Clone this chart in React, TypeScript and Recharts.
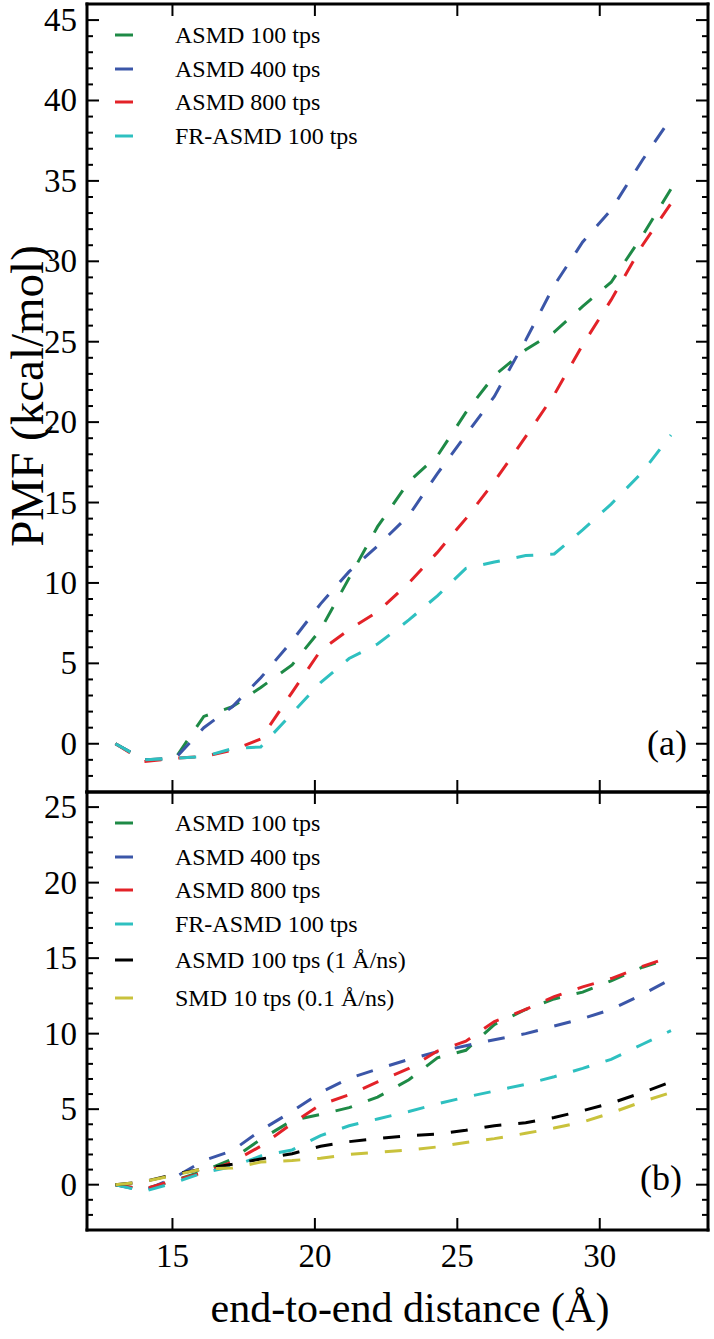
import React from 'react';
import { LineChart, Line, XAxis, YAxis } from 'recharts';

// end-to-end distance (Å) of each stage
const distance = [13.0, 14.0, 15.1, 16.1, 17.1, 18.1, 19.2, 20.2, 21.2, 22.2, 23.3, 24.3, 25.3, 26.3, 27.4, 28.4, 29.4, 30.4, 31.5, 32.5];

// panel (a), PMF in kcal/mol
const asmd100A = [0, -1.0, -0.9, 1.7, 2.3, 3.5, 4.9, 7.1, 10.3, 13.5, 16.3, 17.9, 20.6, 22.9, 24.5, 25.6, 27.2, 28.7, 31.6, 34.5];
const asmd400A = [0, -1.0, -0.9, 1.0, 2.3, 4.1, 6.4, 8.7, 10.7, 12.3, 14.2, 16.8, 19.2, 21.6, 25.1, 28.5, 31.2, 33.2, 36.3, 38.9];
const asmd800A = [0, -1.1, -0.9, -0.8, -0.4, 0.3, 3.2, 5.8, 7.1, 8.2, 10.0, 11.9, 14.0, 16.3, 19.1, 21.7, 24.8, 27.6, 31.0, 33.6];
const frAsmd100A = [0, -1.0, -0.9, -0.8, -0.3, -0.2, 1.9, 3.8, 5.3, 6.2, 7.7, 9.2, 10.9, 11.3, 11.7, 11.8, 13.3, 14.9, 16.9, 19.2];

// panel (b)
const asmd100B = [0, -0.3, 0.3, 0.9, 1.7, 3.0, 4.25, 4.65, 5.1, 5.8, 6.95, 8.4, 8.9, 10.6, 11.6, 12.3, 12.75, 13.5, 14.4, 15.0];
const asmd400B = [0, -0.4, 0.5, 1.6, 2.25, 3.6, 4.85, 6.1, 7.05, 7.65, 8.3, 8.8, 9.2, 9.6, 10.0, 10.5, 11.0, 11.6, 12.6, 13.6];
const asmd800B = [0, -0.3, 0.3, 0.8, 1.5, 2.55, 4.05, 5.3, 5.95, 6.8, 7.7, 8.85, 9.5, 10.8, 11.6, 12.45, 13.1, 13.65, 14.45, 15.1];
const frAsmd100B = [0, -0.45, 0.15, 0.8, 1.2, 1.9, 2.3, 3.25, 3.9, 4.35, 4.85, 5.35, 5.8, 6.2, 6.65, 7.15, 7.7, 8.3, 9.3, 10.2];
const asmd100SlowB = [0, 0.2, 0.7, 1.05, 1.35, 1.7, 2.05, 2.55, 2.85, 3.05, 3.25, 3.35, 3.6, 3.9, 4.1, 4.45, 4.9, 5.4, 6.1, 6.8];
const smd10B = [0, 0.2, 0.65, 1.05, 1.1, 1.5, 1.6, 1.75, 2.0, 2.15, 2.3, 2.5, 2.8, 3.05, 3.4, 3.75, 4.15, 4.75, 5.5, 6.1];

const namesA = ['ASMD 100 tps', 'ASMD 400 tps', 'ASMD 800 tps', 'FR-ASMD 100 tps'];
const namesB = [...namesA, 'ASMD 100 tps (1 Å/ns)', 'SMD 10 tps (0.1 Å/ns)'];
const COLORS = ['#1e8a46', '#3b56a8', '#e32228', '#2ec0c0', '#000000', '#c9c23c'];

const xTicks = [15, 20, 25, 30];
const yMajorA = [0, 5, 10, 15, 20, 25, 30, 35, 40, 45];
const yMajorB = [0, 5, 10, 15, 20, 25];

const FONT = '"Liberation Serif", "Times New Roman", Times, serif';
const X_DOMAIN: [number, number] = [12, 33.8];
const AXIS = { stroke: '#000', strokeWidth: 3, strokeLinecap: 'square' as const };

const intsBetween = (a: number, b: number) => {
  const out: number[] = [];
  for (let v = a; v <= b; v++) out.push(v);
  return out;
};

const toRows = (series: number[][]) =>
  distance.map((d, i) => {
    const row: Record<string, number> = { d };
    series.forEach((s, k) => (row['s' + k] = s[i]));
    return row;
  });

const dataA = toRows([asmd100A, asmd400A, asmd800A, frAsmd100A]);
const dataB = toRows([asmd100B, asmd400B, asmd800B, frAsmd100B, asmd100SlowB, smd10B]);

type Side = 'left' | 'right' | 'top' | 'bottom';

// inward ticks, long on majors, plus the outside labels
function frameTick(side: Side, majors: number[], labelled: boolean) {
  return (props: any) => {
    const { x, y, payload } = props;
    const v = payload.value;
    const major = majors.includes(v);
    const len = major ? 12 : 6;
    const dir = { left: [len, 0], right: [-len, 0], top: [0, len], bottom: [0, -len] }[side];
    return (
      <g>
        <line x1={x} y1={y} x2={x + dir[0]} y2={y + dir[1]} stroke="#000" strokeWidth={2} />
        {labelled && major && side === 'left' && (
          <text x={x - 10} y={y + 11} textAnchor="end" fontSize={33} fontFamily={FONT} fill="#000">
            {v}
          </text>
        )}
        {labelled && side === 'bottom' && (
          <text x={x} y={y + 37} textAnchor="middle" fontSize={33} fontFamily={FONT} fill="#000">
            {v}
          </text>
        )}
      </g>
    );
  };
}

function LegendBlock({ names, rows }: { names: string[]; rows: number[] }) {
  return (
    <g>
      {names.map((n, i) => (
        <g key={n}>
          <line x1={115} x2={133} y1={rows[i]} y2={rows[i]} stroke={COLORS[i]} strokeWidth={3} />
          <text x={175} y={rows[i]} dominantBaseline="central" fontSize={24} fontFamily={FONT} fill="#000">
            {n}
          </text>
        </g>
      ))}
    </g>
  );
}

type PanelProps = {
  top: number;
  height: number;
  margin: { top: number; right: number; bottom: number; left: number };
  data: Record<string, number>[];
  names: string[];
  yDomain: [number, number];
  yMajor: number[];
  xLabels: boolean;
  children?: React.ReactNode;
};

function Panel({ top, height, margin, data, names, yDomain, yMajor, xLabels, children }: PanelProps) {
  const yTicks = intsBetween(yDomain[0] + 1, yDomain[1] - 1);
  return (
    <div style={{ position: 'absolute', left: 0, top }}>
      <LineChart width={714} height={height} data={data} margin={margin}>
        <XAxis xAxisId="t" orientation="top" type="number" dataKey="d" domain={X_DOMAIN} allowDataOverflow
          ticks={xTicks} interval={0} height={1} tickSize={0} tickMargin={0} tickLine={false} axisLine={AXIS}
          tick={frameTick('top', xTicks, false)} />
        <XAxis xAxisId="b" orientation="bottom" type="number" dataKey="d" domain={X_DOMAIN} allowDataOverflow
          ticks={xTicks} interval={0} height={1} tickSize={0} tickMargin={0} tickLine={false} axisLine={AXIS}
          tick={frameTick('bottom', xTicks, xLabels)} />
        <YAxis yAxisId="l" orientation="left" type="number" domain={yDomain} allowDataOverflow
          ticks={yTicks} interval={0} width={87} tickSize={0} tickMargin={0} tickLine={false} axisLine={AXIS}
          tick={frameTick('left', yMajor, true)} />
        <YAxis yAxisId="r" orientation="right" type="number" domain={yDomain} allowDataOverflow
          ticks={yTicks} interval={0} width={1} tickSize={0} tickMargin={0} tickLine={false} axisLine={AXIS}
          tick={frameTick('right', yMajor, false)} />
        {names.map((n, k) => (
          <Line key={n} name={n} xAxisId="b" yAxisId="l" type="linear" dataKey={'s' + k}
            stroke={COLORS[k]} strokeWidth={3} strokeDasharray="17 17" dot={false}
            isAnimationActive={false} />
        ))}
        {children}
      </LineChart>
    </div>
  );
}

export default function App() {
  return (
    <div style={{ position: 'absolute', left: 0, top: 0, width: 714, height: 1339, background: '#fff' }}>
      <Panel top={0} height={800} margin={{ top: 3, right: 5, bottom: 7, left: 0 }} data={dataA}
        names={namesA} yDomain={[-3, 46]} yMajor={yMajorA} xLabels={false}>
        <LegendBlock names={namesA} rows={[35, 69, 102, 136]} />
        <text x={667} y={755} textAnchor="middle" fontSize={36} fontFamily={FONT} fill="#000">(a)</text>
        <text transform="translate(43,396) rotate(-90)" textAnchor="middle" fontSize={47} fontFamily={FONT} fill="#000">
          PMF (kcal/mol)
        </text>
      </Panel>
      <Panel top={780} height={559} margin={{ top: 11, right: 5, bottom: 108, left: 0 }} data={dataB}
        names={namesB} yDomain={[-3, 26]} yMajor={yMajorB} xLabels={true}>
        <LegendBlock names={namesB} rows={[43, 77, 110, 144, 180, 218]} />
        <text x={661} y={410} textAnchor="middle" fontSize={36} fontFamily={FONT} fill="#000">(b)</text>
        <text x={410} y={542} textAnchor="middle" fontSize={42} fontFamily={FONT} fill="#000">
          end-to-end distance (Å)
        </text>
      </Panel>
    </div>
  );
}
